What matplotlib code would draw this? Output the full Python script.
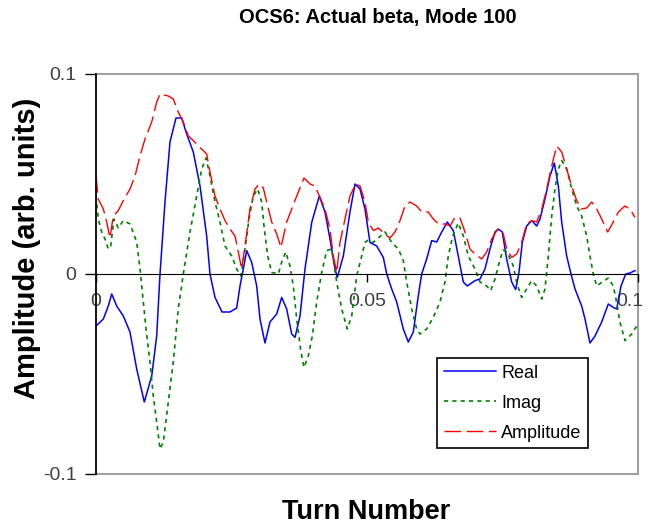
import matplotlib
matplotlib.use('Agg')
import matplotlib.pyplot as plt
import matplotlib.transforms as mtransforms
from matplotlib.patches import Rectangle

plt.rcParams['font.family'] = ['Liberation Sans', 'DejaVu Sans']

# values
real_x = [0.0, 0.00135, 0.00227, 0.0029, 0.00382, 0.00504, 0.00627, 0.00751, 0.00891, 0.01028,
          0.0112, 0.01181, 0.01273, 0.01365, 0.01476, 0.01581, 0.01673, 0.01795, 0.01919, 0.02042,
          0.02103, 0.02196, 0.02325, 0.02472, 0.02596, 0.02657, 0.02718, 0.0278, 0.02873, 0.02965,
          0.03026, 0.03118, 0.0321, 0.03334, 0.03426, 0.03518, 0.03611, 0.03672, 0.03764, 0.03856,
          0.0398, 0.0412, 0.04225, 0.04317, 0.0441, 0.04452, 0.04563, 0.04686, 0.04779, 0.04871,
          0.04963, 0.05055, 0.05179, 0.05301, 0.05364, 0.05456, 0.05548, 0.0567, 0.05762, 0.05854,
          0.05946, 0.06009, 0.06101, 0.06194, 0.06286, 0.06378, 0.06481, 0.06592, 0.06684, 0.06777,
          0.0685, 0.06993, 0.07085, 0.07177, 0.07269, 0.07362, 0.07422, 0.07496, 0.07577, 0.0767,
          0.07743, 0.07804, 0.07865, 0.07946, 0.08039, 0.08131, 0.08192, 0.08284, 0.08376, 0.08456,
          0.0853, 0.08592, 0.08684, 0.08764, 0.08838, 0.08961, 0.09022, 0.09114, 0.09207, 0.0933,
          0.09452, 0.09544, 0.09607, 0.09687, 0.09773, 0.09852, 0.09945]
real_y = [-0.026, -0.0225, -0.016, -0.010, -0.016, -0.021, -0.029, -0.0475, -0.064, -0.051,
          -0.031, 0.0, 0.036, 0.066, 0.078, 0.078, 0.070, 0.061, 0.044, 0.019,
          0.0, -0.0117, -0.019, -0.019, -0.017, -0.006, 0.0025, 0.0117, 0.0058, -0.006,
          -0.0225, -0.0345, -0.024, -0.020, -0.0117, -0.0175, -0.030, -0.0317, -0.021, 0.0025,
          0.0258, 0.039, 0.031, 0.0175, 0.0025, -0.0017, 0.009, 0.031, 0.045, 0.0425,
          0.0325, 0.0158, 0.014, 0.0083, 0.0, -0.0075, -0.014, -0.0275, -0.034, -0.029,
          -0.011, 0.0, 0.0075, 0.0167, 0.016, 0.021, 0.026, 0.0217, 0.009, -0.004,
          -0.006, -0.0033, -0.0025, 0.0025, 0.0125, 0.021, 0.0225, 0.021, 0.0075, -0.004,
          -0.0078, 0.0008, 0.0158, 0.024, 0.0267, 0.024, 0.0275, 0.0375, 0.049, 0.0555,
          0.044, 0.026, 0.009, 0.0, -0.0075, -0.016, -0.0225, -0.0345, -0.031, -0.024,
          -0.015, -0.0167, -0.0175, -0.006, 0.0, 0.0005, 0.0017]

imag_x = [0.0, 0.00042, 0.00105, 0.00166, 0.00227, 0.00271, 0.00332, 0.00411, 0.00504, 0.00627,
          0.00751, 0.00812, 0.00862, 0.00923, 0.00996, 0.01057, 0.0112, 0.01181, 0.01242, 0.01334,
          0.01426, 0.01518, 0.01611, 0.01734, 0.01858, 0.0195, 0.0203, 0.02103, 0.02196, 0.02288,
          0.0238, 0.02504, 0.02596, 0.02675, 0.02749, 0.02823, 0.02902, 0.02983, 0.03057, 0.03105,
          0.03168, 0.03242, 0.03364, 0.03426, 0.035, 0.03579, 0.0364, 0.03703, 0.03782, 0.03838,
          0.03917, 0.03991, 0.04072, 0.04164, 0.04256, 0.04349, 0.04441, 0.04533, 0.04637, 0.04718,
          0.0481, 0.04902, 0.04963, 0.05024, 0.05116, 0.05209, 0.05332, 0.05456, 0.05578, 0.0567,
          0.05732, 0.05825, 0.05917, 0.05978, 0.06101, 0.06223, 0.06347, 0.06439, 0.065, 0.06581,
          0.06684, 0.06777, 0.06869, 0.06993, 0.07085, 0.07208, 0.07282, 0.07362, 0.07441, 0.07509,
          0.07583, 0.07699, 0.07768, 0.07854, 0.07934, 0.08039, 0.08131, 0.08224, 0.08284, 0.08345,
          0.08408, 0.08469, 0.0853, 0.08592, 0.08684, 0.08777, 0.08869, 0.08961, 0.09053, 0.09114,
          0.09175, 0.09238, 0.0933, 0.09452, 0.09544, 0.09607, 0.09668, 0.0976, 0.09884, 0.09976]
imag_y = [0.039, 0.0275, 0.021, 0.0175, 0.0125, 0.014, 0.0275, 0.023, 0.0267, 0.025,
          0.016, 0.0025, -0.011, -0.0275, -0.044, -0.061, -0.074, -0.0875, -0.084, -0.064,
          -0.044, -0.0175, 0.0, 0.021, 0.039, 0.0525, 0.058, 0.049, 0.036, 0.026,
          0.014, 0.009, 0.0025, -0.001, 0.0125, 0.0275, 0.039, 0.0425, 0.036, 0.0225,
          0.009, 0.0008, 0.0, 0.006, 0.011, 0.004, -0.006, -0.0225, -0.039, -0.0467,
          -0.041, -0.031, -0.014, 0.0008, 0.0117, 0.0125, -0.004, -0.0175, -0.0275, -0.021,
          -0.001, 0.009, 0.0158, 0.017, 0.0158, 0.018, 0.021, 0.0158, 0.0125, 0.0067,
          -0.004, -0.0175, -0.0275, -0.030, -0.0275, -0.0217, -0.014, -0.004, 0.009, 0.019,
          0.0255, 0.019, 0.009, 0.0025, -0.004, -0.006, -0.0083, -0.0025, 0.006, 0.012,
          0.011, 0.004, -0.005, -0.0117, -0.008, -0.0033, -0.006, -0.0125, -0.0075, 0.009,
          0.029, 0.0425, 0.0525, 0.0567, 0.0525, 0.0425, 0.034, 0.029, 0.019, 0.009,
          0.0, -0.006, -0.0042, -0.002, -0.006, -0.0142, -0.0242, -0.0333, -0.030, -0.026]

amp_x = [0.0, 0.00042, 0.00135, 0.00197, 0.00258, 0.00319, 0.00411, 0.00504, 0.00627, 0.0072,
         0.00812, 0.00904, 0.01028, 0.0112, 0.01181, 0.01334, 0.01426, 0.01518, 0.01611, 0.01703,
         0.01795, 0.01919, 0.02042, 0.02103, 0.02196, 0.02288, 0.0238, 0.02472, 0.02565, 0.02626,
         0.02688, 0.02749, 0.02841, 0.02934, 0.03013, 0.03087, 0.03149, 0.03242, 0.03334, 0.03413,
         0.03518, 0.03611, 0.03703, 0.03838, 0.03948, 0.0404, 0.04133, 0.04225, 0.04317, 0.04378,
         0.04441, 0.04502, 0.04594, 0.04686, 0.04791, 0.04871, 0.04963, 0.05024, 0.05116, 0.05209,
         0.05332, 0.05424, 0.05517, 0.05609, 0.05701, 0.05793, 0.05917, 0.06009, 0.06131, 0.06223,
         0.06316, 0.06439, 0.06531, 0.06624, 0.06716, 0.06808, 0.069, 0.06993, 0.07116, 0.07208,
         0.07301, 0.07393, 0.07454, 0.07515, 0.07577, 0.0767, 0.07762, 0.07854, 0.07946, 0.08039,
         0.08131, 0.08224, 0.08316, 0.08408, 0.085, 0.08592, 0.08684, 0.08777, 0.08869, 0.08948,
         0.09053, 0.09146, 0.09238, 0.0933, 0.09441, 0.09544, 0.09637, 0.0976, 0.09852, 0.09945]
amp_y = [0.049, 0.0375, 0.0325, 0.026, 0.018, 0.029, 0.0317, 0.0367, 0.0425, 0.049,
         0.059, 0.0675, 0.076, 0.086, 0.090, 0.089, 0.0875, 0.081, 0.076, 0.069,
         0.0667, 0.0633, 0.060, 0.051, 0.039, 0.0325, 0.0267, 0.0225, 0.019, 0.011,
         0.0025, 0.014, 0.0325, 0.0425, 0.045, 0.043, 0.036, 0.026, 0.020, 0.0133,
         0.026, 0.0325, 0.039, 0.048, 0.045, 0.044, 0.0383, 0.0325, 0.0225, 0.009,
         0.0008, 0.0158, 0.0275, 0.039, 0.045, 0.044, 0.036, 0.026, 0.0217, 0.023,
         0.020, 0.018, 0.021, 0.0267, 0.034, 0.036, 0.034, 0.031, 0.031, 0.0275,
         0.025, 0.025, 0.024, 0.0283, 0.028, 0.021, 0.0125, 0.010, 0.0075, 0.011,
         0.0175, 0.0217, 0.0225, 0.020, 0.0125, 0.0083, 0.010, 0.0158, 0.025, 0.0267,
         0.026, 0.0325, 0.0425, 0.054, 0.064, 0.061, 0.0525, 0.044, 0.0367, 0.0325,
         0.033, 0.036, 0.0325, 0.0275, 0.021, 0.026, 0.031, 0.034, 0.0325, 0.0283]

x_ticks = [0, 0.05, 0.1]
x_tick_labels = ['0', '0.05', '0.1']
y_ticks = [-0.1, 0, 0.1]
y_tick_labels = ['-0.1', '0', '0.1']


def draw_graph():
    W, H = 650, 529
    fig = plt.figure(figsize=(W / 100, H / 100), dpi=100)
    ax = fig.add_axes([96 / W, 1 - 474 / H, 542 / W, 400 / H])

    ax.plot(real_x, real_y, color='#0000ff', lw=1.1, label='Real')
    ax.plot(imag_x, imag_y, color='#008000', lw=1.2, dashes=(2.5, 2.5), label='Imag')
    ax.plot(amp_x, amp_y, color='#ff0000', lw=1.0, dashes=(12, 4), label='Amplitude')

    ax.set_xlim(0, 0.1)
    ax.set_ylim(-0.1, 0.1)

    # grey plot-area frame, x axis runs through zero
    ax.add_patch(Rectangle((0, 0), 1, 1, transform=ax.transAxes, fill=False,
                           edgecolor='#a0a0a0', lw=1.5, clip_on=False, zorder=0))
    for s in ['top', 'right']:
        ax.spines[s].set_visible(False)
    ax.spines['bottom'].set_position(('data', 0))
    ax.spines['bottom'].set_color('black')
    ax.spines['left'].set_color('black')
    ax.spines['left'].set_linewidth(1.2)

    ax.set_xticks(x_ticks)
    ax.set_xticklabels(x_tick_labels)
    ax.set_yticks(y_ticks)
    ax.set_yticklabels(y_tick_labels)
    ax.tick_params(axis='x', direction='out', length=6, width=1, pad=8,
                   labelsize=14, labelcolor='#404040')
    ax.tick_params(axis='y', direction='out', length=8, width=1, pad=6,
                   labelsize=14, labelcolor='#404040')

    # last x label sits a little left so it stays inside the picture
    last = ax.get_xticklabels()[-1]
    last.set_transform(last.get_transform() +
                       mtransforms.ScaledTranslation(-6 / 72, 0, fig.dpi_scale_trans))

    fig.text(378 / W, 1 - 18 / H, 'OCS6: Actual beta, Mode 100', ha='center', va='center',
             fontsize=14.5, fontweight='bold')
    fig.text(27 / W, 1 - 248 / H, 'Amplitude (arb. units)', rotation=90, ha='center',
             va='center', fontsize=21, fontweight='bold')
    fig.text(366 / W, 1 - 512 / H, 'Turn Number', ha='center', va='center',
             fontsize=19.5, fontweight='bold')

    leg = ax.legend(loc='upper left', bbox_to_anchor=(437 / W, 1 - 358 / H),
                    bbox_transform=fig.transFigure, borderaxespad=0, fontsize=13,
                    fancybox=False, framealpha=1, edgecolor='black', handlelength=2.9,
                    handletextpad=0.28, labelspacing=0.72, borderpad=0.37)
    leg.get_frame().set_linewidth(1.2)

    plt.savefig('out.png', dpi=100)


if __name__ == "__main__":
    draw_graph()
